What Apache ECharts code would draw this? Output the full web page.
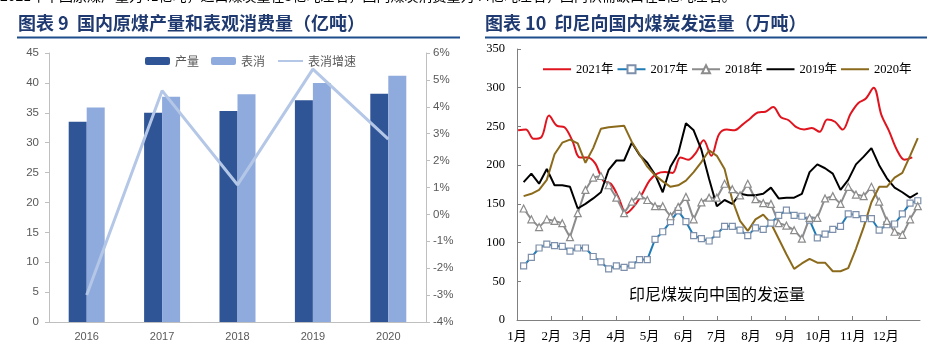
<!DOCTYPE html>
<html><head><meta charset="utf-8">
<script src="https://cdn.jsdelivr.net/npm/echarts@6/dist/echarts.min.js"></script>
<style>html,body{margin:0;padding:0;background:#fff}#c{width:944px;height:343px}</style>
</head><body><div id="c"></div>
<script>
// ---- Chart 9 data ----
const years = ['2016', '2017', '2018', '2019', '2020'];
const rawOutput = [33.5, 35.0, 35.3, 37.1, 38.2];     // 产量 (亿吨)
const apparentUse = [35.9, 37.7, 38.1, 40.0, 41.2];   // 表消 (亿吨)
const useGrowth = [-3.0, 4.6, 1.1, 5.4, 2.8];         // 表消增速 (%)

// ---- Chart 10 data ----
const monthNames = ['1月','2月','3月','4月','5月','6月','7月','8月','9月','10月','11月','12月'];
const monthStartDays = [0, 31, 59, 90, 120, 151, 181, 212, 243, 273, 304, 334];
const weekDays = Array.from({length: 52}, (_, i) => 6 + 7 * i);       // weekly dates (day of year)
const weekDays2021 = Array.from({length: 52}, (_, i) => 1 + 7 * i);
const y2021 = [245,246,234,236,264,251,249,232,210,210, 202,180,176,158,138,147,162,180,189,191,
               190,210,207,216,232,212,240,246,245,252, 260,268,269,275,262,258,249,246,248,243,
               259,256,246,266,280,286,300,265,244,220, 207,210];
const y2017 = [70,81,93,98,96,95,89,93,93,82, 75,66,70,68,71,78,78,104,114,127,
               141,127,109,105,102,111,121,121,116,109, 119,117,125,135,142,135,134,129,106,111,
               117,121,137,136,131,131,116,123,124,137, 151,154];
const y2018 = [144,130,120,130,128,125,107,138,168,184, 186,174,158,138,153,161,155,147,147,134,
               146,159,130,152,158,158,176,169,161,176, 156,151,150,125,122,116,105,132,132,157,
               160,150,172,162,160,172,153,128,114,110, 130,147];
const y2019 = [178,189,176,195,174,174,172,144,150,157, 165,194,206,206,229,213,203,188,165,198,
               215,254,245,220,182,147,155,150,163,161, 161,163,171,157,158,158,163,191,201,196,
               189,168,181,201,211,222,200,183,171,165, 158,164];
const y2020 = [160,163,168,181,214,229,233,228,203,222, 247,249,250,251,230,214,198,187,179,172,
               174,180,191,204,219,212,195,155,128,115, 130,136,125,105,85,66,73,79,74,74,
               63,63,67,92,120,152,172,172,184,190, 212,235];

const pair = (xs, ys) => ys.map((v, i) => [xs[i], v]);
const serif = "'Liberation Serif','Noto Sans CJK SC',serif";
const sans = "'Liberation Sans','Noto Sans CJK SC',sans-serif";
const cjk = "'Noto Sans CJK SC',sans-serif";
const lineOnly = name => ({name: name, itemStyle: {opacity: 0}});

const chart = echarts.init(document.getElementById('c'), null, {renderer: 'canvas'});
chart.setOption({
  animation: false,
  backgroundColor: '#fff',
  graphic: [
    {type: 'text', left: 0, top: -11, style: {text: '2021年中国原煤产量为41亿吨，进口煤炭量在3亿吨左右，国内煤炭消费量为44亿吨左右，国内供需缺口在2亿吨左右。', font: "14px 'Noto Sans CJK SC'", fill: '#000'}},
    {type: 'text', left: 18, top: 14, style: {text: '图表 9  国内原煤产量和表观消费量（亿吨）', font: "bold 18px 'Noto Sans CJK SC'", fill: '#1F3A70'}},
    {type: 'line', shape: {x1: 17, y1: 37.5, x2: 460, y2: 37.5}, style: {stroke: '#1F4E8C', lineWidth: 2}},
    {type: 'text', left: 485, top: 14, style: {text: '图表 10  印尼向国内煤炭发运量（万吨）', font: "bold 18px 'Noto Sans CJK SC'", fill: '#1F3A70'}},
    {type: 'line', shape: {x1: 485, y1: 37.5, x2: 927, y2: 37.5}, style: {stroke: '#1F4E8C', lineWidth: 2}},
    {type: 'text', left: 629, top: 286, style: {text: '印尼煤炭向中国的发运量', font: "16px 'Noto Sans CJK SC'", fill: '#000'}}
  ],
  legend: [
    {left: 140, top: 50, itemWidth: 25, itemHeight: 8, itemGap: 12,
     textStyle: {fontFamily: cjk, fontSize: 12, color: '#595959'},
     data: ['产量', '表消', lineOnly('表消增速')]},
    {left: 537, top: 58, width: 420, itemWidth: 28, itemHeight: 10, itemGap: 3,
     textStyle: {fontFamily: serif, fontSize: 12.5, color: '#000'},
     data: [lineOnly('2021年'), '2017年', '2018年', lineOnly('2019年'), lineOnly('2020年')]}
  ],
  grid: [
    {left: 49, right: 518, top: 53, bottom: 21},
    {left: 517, right: 24, top: 49, bottom: 23}
  ],
  xAxis: [
    {type: 'category', gridIndex: 0, data: years,
     axisLine: {lineStyle: {color: '#BFBFBF'}}, axisTick: {show: false},
     axisLabel: {fontFamily: sans, fontSize: 11, color: '#595959', margin: 9}},
    {type: 'value', gridIndex: 1, min: 0, max: 365,
     splitLine: {show: false},
     axisLine: {lineStyle: {color: '#808080'}},
     axisTick: {inside: true, length: 4, customValues: monthStartDays, lineStyle: {color: '#808080'}},
     axisLabel: {customValues: monthStartDays, showMinLabel: true, fontFamily: serif, fontSize: 13, color: '#000', margin: 10,
                 formatter: v => monthNames[monthStartDays.indexOf(v)]}}
  ],
  yAxis: [
    {type: 'value', gridIndex: 0, min: 0, max: 45, interval: 5, splitLine: {show: false},
     axisLine: {show: true, lineStyle: {color: '#BFBFBF'}}, axisTick: {show: true, length: 4, lineStyle: {color: '#BFBFBF'}},
     axisLabel: {fontFamily: sans, fontSize: 11.5, color: '#595959', margin: 10}},
    {type: 'value', gridIndex: 0, min: -4, max: 6, interval: 1, position: 'right', splitLine: {show: false},
     axisLine: {show: true, lineStyle: {color: '#BFBFBF'}}, axisTick: {show: true, length: 4, lineStyle: {color: '#BFBFBF'}},
     axisLabel: {fontFamily: sans, fontSize: 11.5, color: '#595959', margin: 7, formatter: v => v + '%'}},
    {type: 'value', gridIndex: 1, min: 0, max: 350, interval: 50, splitLine: {show: false},
     axisLine: {show: true, lineStyle: {color: '#808080'}}, axisTick: {show: true, inside: true, length: 4, lineStyle: {color: '#808080'}},
     axisLabel: {fontFamily: serif, fontSize: 12.5, color: '#000', margin: 12}}
  ],
  series: [
    {name: '产量', type: 'bar', xAxisIndex: 0, yAxisIndex: 0, data: rawOutput, barWidth: 18, barGap: '0%',
     itemStyle: {color: '#2F5597'}},
    {name: '表消', type: 'bar', xAxisIndex: 0, yAxisIndex: 0, data: apparentUse, barWidth: 18, barGap: '0%',
     itemStyle: {color: '#8FAADC'}},
    {name: '表消增速', type: 'line', xAxisIndex: 0, yAxisIndex: 1, data: useGrowth, symbol: 'none',
     lineStyle: {color: '#B4C7E7', width: 3}, itemStyle: {color: '#B4C7E7'}},

    {name: '2021年', type: 'line', xAxisIndex: 1, yAxisIndex: 2, data: pair(weekDays2021, y2021), smooth: 0.35,
     symbol: 'none', lineStyle: {color: '#E0141E', width: 2}, itemStyle: {color: '#E0141E'}},
    {name: '2017年', type: 'line', xAxisIndex: 1, yAxisIndex: 2, data: pair(weekDays, y2017),
     symbol: 'rect', symbolSize: 6, showAllSymbol: true,
     lineStyle: {color: '#1F7BB6', width: 2}, itemStyle: {color: '#fff', borderColor: '#7D8FAA', borderWidth: 1.2}},
    {name: '2018年', type: 'line', xAxisIndex: 1, yAxisIndex: 2, data: pair(weekDays, y2018),
     symbol: 'triangle', symbolSize: 7, showAllSymbol: true,
     lineStyle: {color: '#8C8C8C', width: 2}, itemStyle: {color: '#fff', borderColor: '#8C8C8C', borderWidth: 1.2}},
    {name: '2019年', type: 'line', xAxisIndex: 1, yAxisIndex: 2, data: pair(weekDays, y2019),
     symbol: 'none', lineStyle: {color: '#000', width: 2}, itemStyle: {color: '#000'}},
    {name: '2020年', type: 'line', xAxisIndex: 1, yAxisIndex: 2, data: pair(weekDays, y2020),
     symbol: 'none', lineStyle: {color: '#8B6A1C', width: 2}, itemStyle: {color: '#8B6A1C'}}
  ]
});
</script></body></html>
